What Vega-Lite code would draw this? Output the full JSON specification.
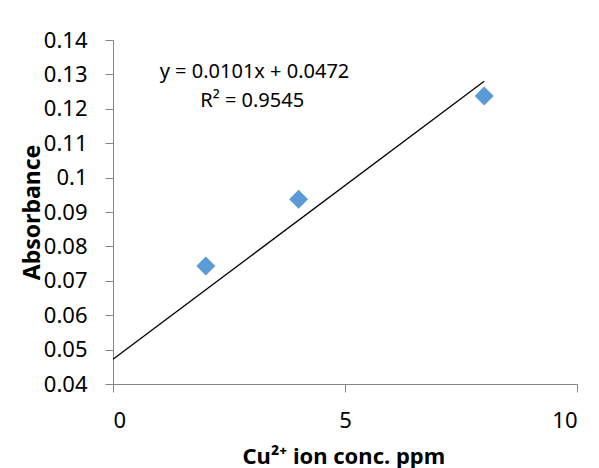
{
  "$schema": "https://vega.github.io/schema/vega-lite/v6.json",
  "width": 464,
  "height": 344,
  "autosize": {"type": "none"},
  "padding": {"left": 113, "top": 40, "right": 22, "bottom": 84},
  "background": "white",
  "config": {
    "view": {"stroke": null},
    "font": "Noto Sans",
    "axis": {
      "grid": false,
      "domainColor": "#868686",
      "tickColor": "#868686",
      "tickSize": 8,
      "labelColor": "black",
      "labelFont": "Noto Sans",
      "labelFontSize": 22,
      "labelOverlap": false,
      "titleFont": "Noto Sans",
      "titleFontWeight": "bold",
      "titleColor": "black"
    }
  },
  "datasets": {
    "points": [
      {"conc": 2, "abs": 0.0743},
      {"conc": 4, "abs": 0.0937},
      {"conc": 8, "abs": 0.1237}
    ],
    "trend": [
      {"conc": 0, "abs": 0.0472},
      {"conc": 8, "abs": 0.128}
    ],
    "labels": [
      {"conc": 3.05, "abs": 0.1307, "text": "y = 0.0101x + 0.0472"},
      {"conc": 3.0, "abs": 0.1223, "text": "R² = 0.9545"}
    ]
  },
  "encoding": {
    "x": {
      "field": "conc", "type": "quantitative",
      "scale": {"domain": [0, 10], "nice": false, "zero": false},
      "axis": {
        "values": [0, 5, 10],
        "labelOverlap": false,
        "title": "Cu²⁺ ion conc. ppm",
        "titleFontSize": 22,
        "titleX": 129,
        "titleAlign": "left",
        "titleY": 79,
        "titleBaseline": "alphabetic",
        "labelPadding": 18
      }
    },
    "y": {
      "field": "abs", "type": "quantitative",
      "scale": {"domain": [0.04, 0.14], "nice": false, "zero": false},
      "axis": {
        "tickCount": 10,
        "labelExpr": "format(datum.value, '.2~f')",
        "labelOverlap": false,
        "labelPadding": 18,
        "title": "Absorbance",
        "titleFontSize": 23,
        "titleX": -81,
        "titleY": 172,
        "titleAngle": -90,
        "titleAlign": "center",
        "titleBaseline": "middle"
      }
    }
  },
  "layer": [
    {
      "data": {"name": "trend"},
      "mark": {"type": "line", "color": "black", "strokeWidth": 1.3}
    },
    {
      "data": {"name": "points"},
      "mark": {"type": "point", "shape": "diamond", "filled": true, "color": "#5B9BD5", "opacity": 1, "size": 360}
    },
    {
      "data": {"name": "labels"},
      "mark": {"type": "text", "font": "Noto Sans", "fontSize": 20, "color": "black", "align": "center", "baseline": "middle"},
      "encoding": {
        "text": {"field": "text"}
      }
    }
  ]
}
